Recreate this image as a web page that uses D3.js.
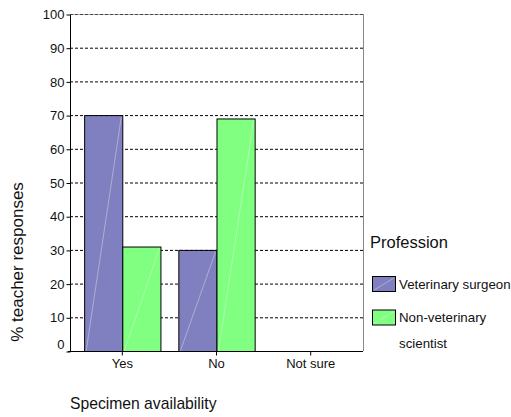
<!DOCTYPE html>
<html>
<head>
<meta charset="utf-8">
<script src="https://cdn.jsdelivr.net/npm/d3@7"></script>
<style>
body{margin:0;background:#fff;}
svg{display:block;font-family:"Liberation Sans",Arial,sans-serif;}
</style>
</head>
<body>
<svg id="chart" width="511" height="417"></svg>
<script>
const categories = ["Yes", "No", "Not sure"];
const seriesNames = ["Veterinary surgeon", "Non-veterinary scientist"];
const vetSurgeon = [70, 30, 0];
const nonVetScientist = [31, 69, 0];
const yTicks = [0, 10, 20, 30, 40, 50, 60, 70, 80, 90, 100];
const colors = ["#8080c0", "#80ff80"];

const svg = d3.select("#chart");
const pLeft = 70, pRight = 363, pTop = 14, pBottom = 351;

const x0 = d3.scaleBand().domain(categories).range([pLeft, pRight]).paddingInner(0.19).paddingOuter(0.15);
const x1 = d3.scaleBand().domain(seriesNames).range([0, x0.bandwidth()]);
const y = d3.scaleLinear().domain([0, 100]).range([pBottom, pTop]);

// grid lines
svg.append("g").selectAll("line").data(yTicks.filter(d => d > 0)).join("line")
  .attr("x1", pLeft).attr("x2", pRight)
  .attr("y1", d => y(d) + 0.5).attr("y2", d => y(d) + 0.5)
  .attr("stroke", "#000").attr("stroke-dasharray", "3,2").attr("stroke-width", 1);

// right border
svg.append("line").attr("x1", pRight + 0.5).attr("x2", pRight + 0.5).attr("y1", pTop).attr("y2", pBottom)
  .attr("stroke", "#888");

const data = categories.map((c, i) => ({cat: c, vals: [vetSurgeon[i], nonVetScientist[i]]}));

const groups = svg.append("g").selectAll("g").data(data).join("g")
  .attr("transform", d => `translate(${x0(d.cat)},0)`);

groups.selectAll("rect").data(d => d.vals.map((v, j) => ({s: seriesNames[j], v, j}))).join("rect")
  .attr("x", d => x1(d.s) + 0.5)
  .attr("y", d => y(d.v) + 0.5)
  .attr("width", x1.bandwidth())
  .attr("height", d => y(0) - y(d.v))
  .attr("fill", d => colors[d.j])
  .attr("stroke", "#000").attr("stroke-width", 1);

groups.selectAll("line.diag").data(d => d.vals.map((v, j) => ({s: seriesNames[j], v, j})).filter(d => d.v > 0)).join("line")
  .attr("class", "diag")
  .attr("x1", d => x1(d.s) + 2)
  .attr("y1", y(0))
  .attr("x2", d => x1(d.s) + x1.bandwidth() - 1)
  .attr("y2", d => y(d.v) + 2)
  .attr("stroke", "#fff").attr("stroke-opacity", 0.35).attr("stroke-width", 1);

// y axis
const yAxis = d3.axisLeft(y).tickValues(yTicks).tickSize(4).tickPadding(2);
const ya = svg.append("g").attr("transform", `translate(${pLeft + 0.5},0.5)`).call(yAxis);
ya.select(".domain").attr("stroke", "#000").attr("d", `M0,${pTop}V${pBottom}`);
ya.selectAll(".tick line").attr("stroke", "#000");
ya.selectAll(".tick text").attr("font-size", 13).attr("fill", "#111")
  .attr("font-family", "Liberation Sans, Arial, sans-serif")
  .attr("dy", d => d === 0 ? "-0.2em" : "0.32em");

// top line
svg.append("line").attr("x1", pLeft).attr("x2", pRight).attr("y1", pTop + 0.5).attr("y2", pTop + 0.5)
  .attr("stroke", "#777").attr("stroke-opacity", 0.6);

// x axis
const xAxis = d3.axisBottom(x0).tickSize(4).tickPadding(3);
const xa = svg.append("g").attr("transform", `translate(0,${pBottom + 0.5})`).call(xAxis);
xa.select(".domain").attr("stroke", "#000").attr("d", `M${pLeft - 2},0H${pRight}`);
xa.selectAll(".tick line").attr("stroke", "#000");
xa.selectAll(".tick text").attr("font-size", 13).attr("fill", "#111")
  .attr("font-family", "Liberation Sans, Arial, sans-serif");

// axis titles
svg.append("text").attr("x", 70).attr("y", 409).attr("font-size", 15.7).attr("fill", "#111")
  .text("Specimen availability");
svg.append("text").attr("transform", "translate(23,262) rotate(-90)").attr("text-anchor", "middle")
  .attr("font-size", 17).attr("fill", "#111").text("% teacher responses");

// legend
const lg = svg.append("g");
lg.append("text").attr("x", 370).attr("y", 248).attr("font-size", 16.5).attr("fill", "#111").text("Profession");
const legendLines = [["Veterinary surgeon"], ["Non-veterinary", "scientist"]];
seriesNames.forEach((s, i) => {
  const yy = 276 + i * 33.5;
  lg.append("rect").attr("x", 372.5).attr("y", yy + 0.5).attr("width", 23).attr("height", 15)
    .attr("fill", colors[i]).attr("stroke", "#000");
  lg.append("line").attr("x1", 374).attr("y1", yy + 14).attr("x2", 394).attr("y2", yy + 2)
    .attr("stroke", "#fff").attr("stroke-opacity", 0.35);
  legendLines[i].forEach((t, k) => {
    lg.append("text").attr("x", 399).attr("y", yy + 12.5 + k * 26).attr("font-size", 13.3).attr("fill", "#111").text(t);
  });
});
</script>
</body>
</html>
